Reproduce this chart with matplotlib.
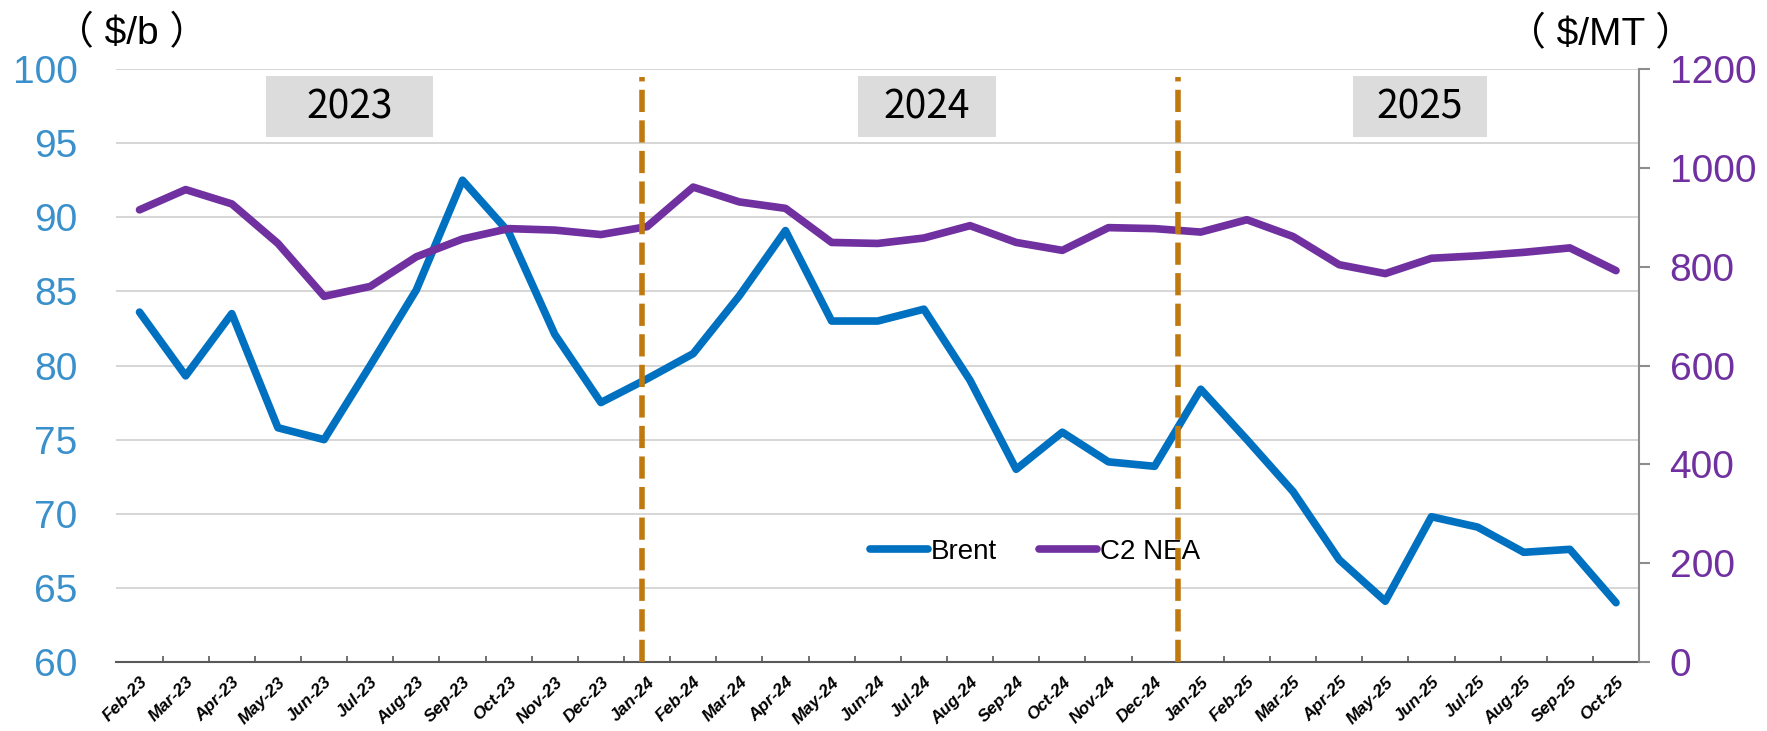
import matplotlib.pyplot as plt
from matplotlib.patches import Rectangle

months = ['Feb-23', 'Mar-23', 'Apr-23', 'May-23', 'Jun-23', 'Jul-23', 'Aug-23', 'Sep-23',
          'Oct-23', 'Nov-23', 'Dec-23', 'Jan-24', 'Feb-24', 'Mar-24', 'Apr-24', 'May-24',
          'Jun-24', 'Jul-24', 'Aug-24', 'Sep-24', 'Oct-24', 'Nov-24', 'Dec-24', 'Jan-25',
          'Feb-25', 'Mar-25', 'Apr-25', 'May-25', 'Jun-25', 'Jul-25', 'Aug-25', 'Sep-25',
          'Oct-25']
brent = [83.6, 79.3, 83.5, 75.8, 75.0, 80.0, 85.1, 92.5, 89.0, 82.1, 77.5, 79.1,
         80.8, 84.7, 89.1, 83.0, 83.0, 83.8, 79.0, 73.0, 75.5, 73.5, 73.2, 78.4,
         75.0, 71.5, 66.9, 64.1, 69.8, 69.1, 67.4, 67.6, 64.0]
c2_nea = [915, 956, 927, 847, 740, 760, 820, 856, 877, 874, 865, 881,
          961, 931, 918, 849, 847, 858, 883, 849, 833, 879, 877, 870,
          895, 861, 804, 786, 817, 822, 829, 838, 792]

years = ['2023', '2024', '2025']
year_spans = [(2.74, 6.36), (15.58, 18.56), (26.3, 29.2)]
year_lines = [10.88, 22.5]

blue = '#0070C0'
purple = '#7030A0'
orange = '#C0790F'

plt.rcParams['font.family'] = ['Liberation Sans', 'Noto Sans CJK SC']

fig = plt.figure(figsize=(17.67, 7.31), dpi=100)
ax = fig.add_axes([0.0659, 0.0944, 0.8617, 0.8112])
ax2 = ax.twinx()

x = list(range(len(months)))
l1, = ax.plot(x, brent, color=blue, lw=5.5, solid_capstyle='round',
              solid_joinstyle='round', label='Brent')
l2, = ax2.plot(x, c2_nea, color=purple, lw=5.5, solid_capstyle='round',
               solid_joinstyle='round', label='C2 NEA')

ax.set_xlim(-0.5, len(months) - 0.5)
ax.set_ylim(60, 100)
ax2.set_ylim(0, 1200)
ax.set_yticks(range(60, 101, 5))
ax2.set_yticks(range(0, 1201, 200))

ax.grid(axis='y', color='#D0D0D0', lw=1.2)
ax.set_axisbelow(True)

for a in (ax, ax2):
    a.spines['top'].set_visible(False)
    a.spines['left'].set_visible(False)
ax.spines['right'].set_visible(False)
ax2.spines['right'].set_color('#8C8C8C')
ax2.spines['right'].set_linewidth(1.5)
ax2.spines['bottom'].set_visible(False)
ax.spines['bottom'].set_color('#595959')
ax.spines['bottom'].set_linewidth(1.5)

ax.tick_params(axis='y', length=0, pad=28, labelsize=28, labelcolor='#3A90CA')
ax2.tick_params(axis='y', length=8, width=1.5, color='#8C8C8C', pad=14,
                labelsize=28, labelcolor=purple)

ax.set_xticks(x)
ax.set_xticklabels(months, rotation=45, ha='right', rotation_mode='anchor',
                   fontsize=12.5, fontweight='bold', fontstyle='italic')
ax.tick_params(axis='x', which='major', length=0, pad=9)
ax.set_xticks([i - 0.5 for i in range(1, len(months))], minor=True)
ax.tick_params(axis='x', which='minor', direction='in', length=4, width=1.2,
               color='#595959')

# year boxes
for label, (x0, x1) in zip(years, year_spans):
    ax2.add_patch(Rectangle((x0, 1061.5), x1 - x0, 123.5,
                            facecolor='#DCDCDC', edgecolor='none', zorder=3))
    ax2.text((x0 + x1) / 2, 1123, label, ha='center', va='center', fontsize=28,
             family='Noto Sans CJK SC', zorder=4)

for xv in year_lines:
    ax2.axvline(xv, ymin=0, ymax=0.987, color=orange, lw=4,
                dashes=(4, 1.5), zorder=6)

leg = ax2.legend(handles=[l1, l2], loc='center left', ncol=2, frameon=False,
                 bbox_to_anchor=(870 / 1767, 1 - 552 / 731),
                 bbox_transform=fig.transFigure, borderaxespad=0, borderpad=0,
                 fontsize=20, handlelength=2.1, handletextpad=0.1,
                 columnspacing=1.5)
leg.set_zorder(5)

fig.text(0.0747, 1 - 34 / 731, '（ $/b ）', ha='center', va='center', fontsize=28)
fig.text(0.906, 1 - 35 / 731, '（ $/MT ）', ha='center', va='center', fontsize=28)

fig.savefig('out.png', dpi=100)
